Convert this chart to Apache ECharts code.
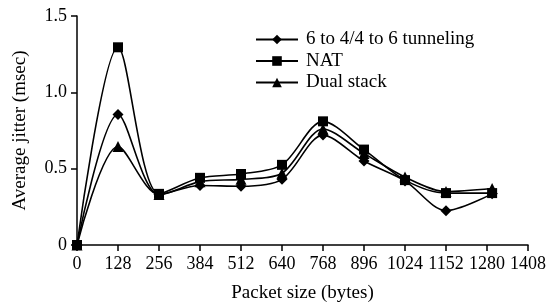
<!DOCTYPE html>
<html>
<head>
<meta charset="utf-8">
<script src="https://cdn.jsdelivr.net/npm/echarts@6/dist/echarts.min.js"></script>
<style>
  html, body { margin: 0; padding: 0; background: #fff; }
  #chart { width: 554px; height: 308px; }
</style>
</head>
<body>
<div id="chart"></div>
<script>
// packet sizes (bytes)
var packetSizes = [0, 128, 256, 384, 512, 640, 768, 896, 1024, 1152, 1296];
// average jitter (msec)
var tunneling = [0, 0.855, 0.33, 0.39, 0.385, 0.43, 0.72, 0.55, 0.42, 0.225, 0.335];
var nat = [0, 1.295, 0.335, 0.44, 0.465, 0.525, 0.81, 0.625, 0.425, 0.34, 0.34];
var dualStack = [0, 0.645, 0.33, 0.415, 0.43, 0.47, 0.76, 0.6, 0.445, 0.35, 0.37];

function pairs(ys) {
  var out = [];
  for (var i = 0; i < ys.length; i++) {
    out.push([packetSizes[i], ys[i]]);
  }
  return out;
}

var myChart = echarts.init(document.getElementById("chart"));
var font = "Liberation Serif";

function lineSeries(name, symbol, size, ys) {
  return {
    name: name,
    type: "line",
    smooth: 0.3,
    symbol: symbol,
    symbolSize: size,
    data: pairs(ys),
    lineStyle: { color: "#000", width: 1.6 },
    itemStyle: { color: "#000" },
  };
}

var option = {
  animation: false,
  textStyle: { fontFamily: font },
  grid: { left: 77, right: 26, top: 16, bottom: 62 },
  legend: {
    orient: "vertical",
    left: 250,
    top: 25,
    itemWidth: 42,
    itemHeight: 12,
    itemGap: 2.5,
    textStyle: { fontFamily: font, fontSize: 19, lineHeight: 19, color: "#000", padding: [0, 0, 0, 3] },
    data: ["6 to 4/4 to 6 tunneling", "NAT", "Dual stack"],
  },
  xAxis: {
    type: "value",
    min: 0,
    max: 1408,
    interval: 128,
    name: "Packet size (bytes)",
    nameLocation: "middle",
    nameGap: 39,
    nameTextStyle: { fontFamily: font, fontSize: 19, color: "#000" },
    axisLine: { lineStyle: { color: "#000", width: 1.5 } },
    axisTick: { show: true, length: 6, lineStyle: { color: "#000", width: 1.5 } },
    axisLabel: {
      fontFamily: font,
      fontSize: 18,
      color: "#000",
      margin: 10,
      formatter: function (v) {
        return String(v);
      },
    },
    splitLine: { show: false },
  },
  yAxis: {
    type: "value",
    min: 0,
    max: 1.5,
    interval: 0.5,
    name: "Average jitter (msec)",
    nameLocation: "middle",
    nameGap: 47,
    nameTextStyle: { fontFamily: font, fontSize: 19, color: "#000" },
    axisLine: { show: true, lineStyle: { color: "#000", width: 1.5 } },
    axisTick: { show: true, length: 6, lineStyle: { color: "#000", width: 1.5 } },
    axisLabel: {
      fontFamily: font,
      fontSize: 18,
      color: "#000",
      margin: 10,
      formatter: function (v) {
        return v === 0 ? "0" : v.toFixed(1);
      },
    },
    splitLine: { show: false },
  },
  series: [
    lineSeries("Dual stack", "triangle", 11, dualStack),
    lineSeries("6 to 4/4 to 6 tunneling", "diamond", 11, tunneling),
    lineSeries("NAT", "rect", 10, nat),
  ],
};
myChart.setOption(option);
</script>
</body>
</html>
